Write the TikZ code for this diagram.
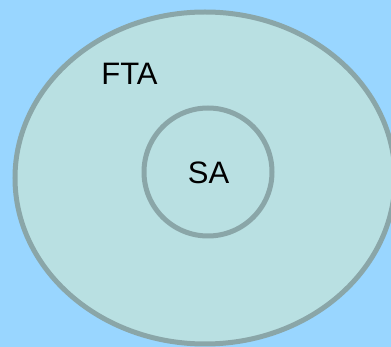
\documentclass[tikz,border=0pt]{standalone}
\usepackage{fontspec}
\setmainfont{Liberation Sans}
\definecolor{bgblue}{RGB}{153,214,255}
\definecolor{setfill}{RGB}{185,224,226}
\definecolor{setline}{RGB}{138,166,168}
\tikzset{setcirc/.style={draw=setline,line width=5pt,fill=setfill}}
\tikzset{setlabel/.style={font=\fontsize{31}{37}\selectfont,inner sep=0pt}}

\begin{document}
\begin{tikzpicture}[x=1pt,y=-1pt]
      \fill[bgblue] (0,0) rectangle (391,347);
      \useasboundingbox (0,0) rectangle (391,347);
      \draw[setcirc] (205,178) ellipse [x radius=190,y radius=166];
      \draw[setcirc] (208,172) circle [radius=64];

      \node[setlabel] at (129.5,74) (fta) {FTA};
      \node[setlabel] at (208.5,172.5) (sa) {SA};
    \end{tikzpicture}
\end{document}
